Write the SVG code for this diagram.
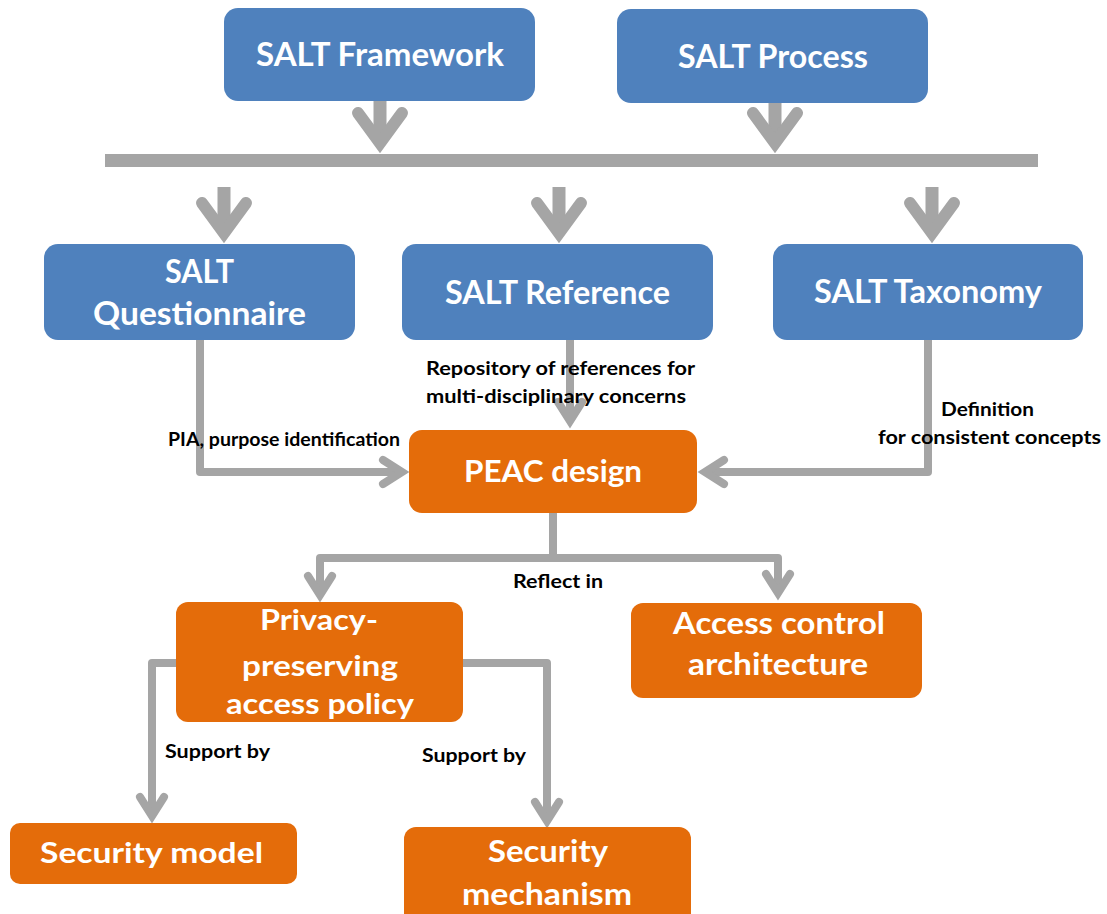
<svg xmlns="http://www.w3.org/2000/svg" xmlns:xlink="http://www.w3.org/1999/xlink" width="1107" height="914" viewBox="0 0 1107 914">
  <style>
    .blue { fill: #4f81bd; }
    .orange { fill: #e46c0a; }
    .nt { font-family: Lato, "Open Sans", "Liberation Sans", sans-serif; font-weight: bold; fill: #ffffff; text-anchor: middle; }
    .lbl { font-family: Lato, "Open Sans", "Liberation Sans", sans-serif; font-weight: bold; font-size: 19px; fill: #000000; }
    .bar { fill: #a5a5a5; }
    .wire { fill: none; stroke: #a5a5a5; stroke-width: 8; stroke-linejoin: round; }
    .stem { fill: none; stroke: #a5a5a5; stroke-width: 13; }
    .chev { fill: none; stroke: #a5a5a5; stroke-linecap: round; stroke-linejoin: miter; }
  </style>
  <defs>
    <!-- chevron heads, tip at the origin, pointing down -->
    <path id="bigHead" class="chev" stroke-width="12" d="M-22,-40 L0,-10 L22,-40"/>
    <path id="smallHead" class="chev" stroke-width="8" d="M-12,-26 L0,-7 L12,-26"/>
    <clipPath id="clipPrivacy">
      <rect x="176" y="602" width="287" height="120" rx="12"/>
    </clipPath>
  </defs>

  <!-- connectors -->
  <g id="connectors">
    <!-- distribution bar -->
    <rect class="bar" x="105" y="154" width="933" height="13"/>
    <!-- top boxes into the bar -->
    <line class="stem" x1="380" y1="101" x2="380" y2="143"/>
    <use xlink:href="#bigHead" transform="translate(380,153)"/>
    <line class="stem" x1="775" y1="103" x2="775" y2="143"/>
    <use xlink:href="#bigHead" transform="translate(775,153)"/>
    <!-- bar into second row -->
    <line class="stem" x1="224" y1="187" x2="224" y2="233"/>
    <use xlink:href="#bigHead" transform="translate(224,243)"/>
    <line class="stem" x1="559" y1="187" x2="559" y2="233"/>
    <use xlink:href="#bigHead" transform="translate(559,243)"/>
    <line class="stem" x1="932" y1="187" x2="932" y2="233"/>
    <use xlink:href="#bigHead" transform="translate(932,243)"/>

    <!-- second row into PEAC design -->
    <path class="wire" d="M200,340 V472 H402"/>
    <use xlink:href="#smallHead" transform="translate(409,472) rotate(-90)"/>
    <path class="wire" d="M570,340 V422"/>
    <use xlink:href="#smallHead" transform="translate(570,428)"/>
    <path class="wire" d="M928,340 V472 H705"/>
    <use xlink:href="#smallHead" transform="translate(698,472) rotate(90)"/>

    <!-- PEAC design split -->
    <path class="wire" d="M553,513 V558"/>
    <path class="wire" d="M320,595 V558 H778 V593"/>
    <use xlink:href="#smallHead" transform="translate(320,602)"/>
    <use xlink:href="#smallHead" transform="translate(778,600)"/>

    <!-- policy support -->
    <path class="wire" d="M176,663 H152 V816"/>
    <use xlink:href="#smallHead" transform="translate(152,823)"/>
    <path class="wire" d="M463,663 H547 V821"/>
    <use xlink:href="#smallHead" transform="translate(547,828)"/>

    <!-- connector labels -->
    <text class="lbl" x="168" y="446" textLength="232" lengthAdjust="spacingAndGlyphs">PIA, purpose identification</text>
    <text class="lbl" x="426" y="375" textLength="269" lengthAdjust="spacingAndGlyphs">Repository of references for</text>
    <text class="lbl" x="426" y="403" textLength="260" lengthAdjust="spacingAndGlyphs">multi-disciplinary concerns</text>
    <text class="lbl" x="941" y="416" textLength="93" lengthAdjust="spacingAndGlyphs">Definition</text>
    <text class="lbl" x="878" y="444" textLength="223" lengthAdjust="spacingAndGlyphs">for consistent concepts</text>
    <text class="lbl" x="513" y="588" font-size="20" textLength="90" lengthAdjust="spacingAndGlyphs">Reflect in</text>
    <text class="lbl" x="165" y="758" textLength="105" lengthAdjust="spacingAndGlyphs">Support by</text>
    <text class="lbl" x="422" y="762" textLength="104" lengthAdjust="spacingAndGlyphs">Support by</text>
  </g>

  <g id="salt-framework">
    <rect class="blue" x="224" y="8" width="311" height="93" rx="14"/>
    <text class="nt" x="380" y="66" font-size="32" textLength="248" lengthAdjust="spacingAndGlyphs">SALT Framework</text>
  </g>

  <g id="salt-process">
    <rect class="blue" x="617" y="9" width="311" height="94" rx="14"/>
    <text class="nt" x="773" y="68" font-size="32" textLength="190" lengthAdjust="spacingAndGlyphs">SALT Process</text>
  </g>

  <g id="salt-questionnaire">
    <rect class="blue" x="44" y="244" width="311" height="96" rx="14"/>
    <text class="nt" x="199.5" y="283" font-size="32" textLength="69" lengthAdjust="spacingAndGlyphs">SALT</text>
    <text class="nt" x="199.5" y="325" font-size="32" textLength="213" lengthAdjust="spacingAndGlyphs">Questionnaire</text>
  </g>

  <g id="salt-reference">
    <rect class="blue" x="402" y="244" width="311" height="96" rx="14"/>
    <text class="nt" x="557.5" y="304" font-size="32" textLength="225" lengthAdjust="spacingAndGlyphs">SALT Reference</text>
  </g>

  <g id="salt-taxonomy">
    <rect class="blue" x="773" y="244" width="310" height="96" rx="14"/>
    <text class="nt" x="928" y="303" font-size="32" textLength="228" lengthAdjust="spacingAndGlyphs">SALT Taxonomy</text>
  </g>

  <g id="peac-design">
    <rect class="orange" x="409" y="430" width="288" height="83" rx="13"/>
    <text class="nt" x="553" y="482" font-size="31" textLength="178" lengthAdjust="spacingAndGlyphs">PEAC design</text>
  </g>

  <g id="privacy-policy">
    <rect class="orange" x="176" y="602" width="287" height="120" rx="12"/>
    <g clip-path="url(#clipPrivacy)">
      <text class="nt" x="319" y="630" font-size="29" textLength="118" lengthAdjust="spacingAndGlyphs">Privacy-</text>
      <text class="nt" x="320" y="676" font-size="29" textLength="156" lengthAdjust="spacingAndGlyphs">preserving</text>
      <text class="nt" x="320" y="714" font-size="29" textLength="188" lengthAdjust="spacingAndGlyphs">access policy</text>
    </g>
  </g>

  <g id="access-control">
    <rect class="orange" x="631" y="603" width="291" height="95" rx="12"/>
    <text class="nt" x="779" y="634" font-size="30" textLength="212" lengthAdjust="spacingAndGlyphs">Access control</text>
    <text class="nt" x="778" y="675" font-size="30" textLength="180" lengthAdjust="spacingAndGlyphs">architecture</text>
  </g>

  <g id="security-model">
    <rect class="orange" x="10" y="823" width="287" height="61" rx="10"/>
    <text class="nt" x="151.5" y="863" font-size="29" textLength="223" lengthAdjust="spacingAndGlyphs">Security model</text>
  </g>

  <g id="security-mechanism">
    <rect class="orange" x="404" y="827" width="287" height="100" rx="12"/>
    <text class="nt" x="548" y="862" font-size="30" textLength="120" lengthAdjust="spacingAndGlyphs">Security</text>
    <text class="nt" x="547" y="905" font-size="30" textLength="170" lengthAdjust="spacingAndGlyphs">mechanism</text>
  </g>
</svg>
